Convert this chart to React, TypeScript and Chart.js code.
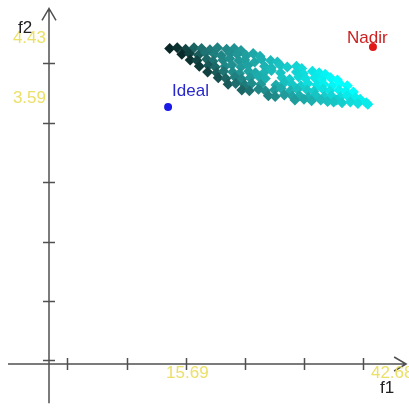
import React, { useEffect, useRef } from "react";
import { Chart, registerables } from "chart.js";

Chart.register(...registerables);

// Pareto front cloud: [f1, f2]
const CLOUD: [number, number][] = [
  [15.9, 4.41], [16.9, 4.42], [18.0, 4.40], [19.1, 4.42], [20.1, 4.41], [21.2, 4.39], [22.2, 4.42], [23.4, 4.40], [24.4, 4.41], [25.3, 4.38],
  [17.5, 4.33], [18.5, 4.34], [19.7, 4.32], [20.6, 4.35], [21.8, 4.33], [22.7, 4.31], [23.9, 4.34], [24.8, 4.33], [26.0, 4.31], [26.9, 4.34], [27.8, 4.30],
  [18.6, 4.25], [19.5, 4.24], [20.8, 4.26], [21.6, 4.23], [22.9, 4.25], [23.8, 4.27], [25.0, 4.24], [25.8, 4.25], [27.1, 4.22], [28.0, 4.26], [29.2, 4.24], [30.1, 4.22],
  [19.8, 4.16], [21.0, 4.17], [21.9, 4.15], [23.2, 4.16], [24.1, 4.18], [25.3, 4.15], [26.2, 4.17], [28.4, 4.16], [29.3, 4.14], [30.5, 4.17], [31.4, 4.15], [32.6, 4.16], [33.3, 4.13],
  [20.9, 4.08], [22.1, 4.07], [23.0, 4.09], [24.2, 4.08], [25.1, 4.06], [26.3, 4.09], [27.2, 4.07], [28.4, 4.08], [29.3, 4.10], [30.5, 4.07], [32.6, 4.08], [33.5, 4.06], [34.7, 4.09], [35.6, 4.07], [36.4, 4.05],
  [22.3, 4.00], [23.3, 3.99], [24.5, 4.01], [25.4, 3.98], [26.5, 4.00], [27.6, 4.02], [28.5, 3.99], [30.7, 4.00], [31.7, 3.98], [32.9, 4.01], [33.8, 3.99], [35.0, 4.00], [35.9, 3.97], [37.1, 4.00], [38.0, 3.97],
  [23.6, 3.91], [24.6, 3.92], [25.8, 3.90], [26.7, 3.92], [27.9, 3.91], [29.9, 3.90], [31.0, 3.93], [32.0, 3.91], [33.2, 3.89], [34.1, 3.92], [35.3, 3.90], [36.2, 3.91], [37.3, 3.89], [38.3, 3.92], [39.3, 3.89],
  [25.4, 3.83], [26.4, 3.82], [27.6, 3.84], [28.5, 3.82], [29.7, 3.83], [30.6, 3.85], [31.8, 3.82], [32.7, 3.84], [34.0, 3.83], [34.9, 3.81], [36.1, 3.84], [37.0, 3.82], [38.2, 3.83], [39.1, 3.81], [40.1, 3.80],
  [28.9, 3.75], [29.8, 3.74], [31.0, 3.76], [32.1, 3.74], [33.0, 3.75], [34.2, 3.73], [35.1, 3.76], [36.3, 3.74], [37.2, 3.75], [38.4, 3.73], [39.3, 3.75], [40.4, 3.72], [41.0, 3.70],
  [32.4, 3.69], [33.6, 3.70], [34.6, 3.68], [35.8, 3.69], [36.7, 3.67], [37.9, 3.69],
  [37.5, 3.66], [38.6, 3.65], [39.7, 3.66], [40.7, 3.64], [41.8, 3.65], [42.0, 3.63],
];

// lower-left edge of the cloud (used for shading only)
const LOWER_EDGE: [number, number][] = [
  [15.9, 4.41], [24.1, 3.86], [27.8, 3.76], [33.1, 3.69], [42.0, 3.63],
];

const IDEAL: [number, number] = [15.69, 3.59];
const NADIR: [number, number] = [42.68, 4.43];

const X_TICKS = [2.37, 10.28, 18.05, 25.82, 33.6, 41.37];
const Y_TICKS = [4.206, 3.368, 2.543, 1.705, 0.88, 0.056];
const X_TICK_LABELS = ["15.69", "42.68"];
const Y_TICK_LABELS = ["4.43", "3.59"];
const X_RANGE = [-6.456, 47.43];
const Y_RANGE = [-0.615, 5.087];
const X_AXIS_EXTENT = [-5.4, 47.05];
const Y_AXIS_EXTENT = [-0.55, 4.97];

function lowerEdge(f1: number): number {
  for (let i = 0; i < LOWER_EDGE.length - 1; i++) {
    const [a, av] = LOWER_EDGE[i];
    const [b, bv] = LOWER_EDGE[i + 1];
    if (f1 <= b || i === LOWER_EDGE.length - 2) {
      const t = (f1 - a) / (b - a);
      return av + (bv - av) * t;
    }
  }
  return LOWER_EDGE[0][1];
}

function shade(p: [number, number]): string {
  const [f1, f2] = p;
  const base = Math.min(1, Math.max(0, (f1 - 15.5) / 27));
  const e = Math.min(1, Math.max(0, (f2 - lowerEdge(f1)) / 0.25));
  const b = Math.min(1, Math.max(0, base + 0.25 * e - 0.08));
  const r = Math.round(8 * (1 - b) + 28 * Math.sin(Math.PI * b));
  const g = Math.round(38 + 217 * b);
  return `rgb(${r},${g},${g})`;
}

const axesPlugin = {
  id: "customAxes",
  afterDatasetsDraw(chart: any) {
    const ctx = chart.ctx;
    const xs = chart.scales.x;
    const ys = chart.scales.y;
    const ox = xs.getPixelForValue(0);
    const oy = ys.getPixelForValue(0);
    const xl = xs.getPixelForValue(X_AXIS_EXTENT[0]);
    const xr = xs.getPixelForValue(X_AXIS_EXTENT[1]);
    const yb = ys.getPixelForValue(Y_AXIS_EXTENT[0]);
    const yt = ys.getPixelForValue(Y_AXIS_EXTENT[1]);
    ctx.save();
    ctx.strokeStyle = "#505050";
    ctx.lineWidth = 1.5;
    ctx.beginPath();
    ctx.moveTo(xl, oy);
    ctx.lineTo(xr, oy);
    ctx.moveTo(ox, yb);
    ctx.lineTo(ox, yt);
    // arrows
    ctx.moveTo(xr - 12, oy - 7);
    ctx.lineTo(xr, oy);
    ctx.lineTo(xr - 12, oy + 7);
    ctx.moveTo(ox - 7, yt + 12);
    ctx.lineTo(ox, yt);
    ctx.lineTo(ox + 7, yt + 12);
    // ticks
    for (const v of X_TICKS) {
      const px = Math.round(xs.getPixelForValue(v)) + 0.5;
      ctx.moveTo(px, oy - 6);
      ctx.lineTo(px, oy + 6);
    }
    for (const v of Y_TICKS) {
      const py = Math.round(ys.getPixelForValue(v)) + 0.5;
      ctx.moveTo(ox - 6, py);
      ctx.lineTo(ox + 6, py);
    }
    ctx.stroke();

    ctx.font = "17px 'Liberation Sans', Arial, sans-serif";
    ctx.textBaseline = "alphabetic";
    // tick labels
    ctx.fillStyle = "#ebe068";
    ctx.textAlign = "left";
    const xVals = [IDEAL[0], NADIR[0]];
    xVals.forEach((v, i) => {
      ctx.fillText(X_TICK_LABELS[i], xs.getPixelForValue(v) - 2, oy + 14);
    });
    ctx.textAlign = "right";
    const yVals = [NADIR[1], IDEAL[1]];
    yVals.forEach((v, i) => {
      ctx.fillText(Y_TICK_LABELS[i], ox - 3, ys.getPixelForValue(v) - 4);
    });
    // axis titles
    ctx.fillStyle = "#202020";
    ctx.textAlign = "left";
    ctx.fillText("f2", ox - 31, yt + 25);
    ctx.fillText("f1", xr - 26, oy + 29);
    // point labels
    ctx.fillStyle = "#2828cc";
    ctx.fillText("Ideal", xs.getPixelForValue(IDEAL[0]) + 4, ys.getPixelForValue(IDEAL[1]) - 11);
    ctx.fillStyle = "#cc2020";
    ctx.fillText("Nadir", xs.getPixelForValue(NADIR[0]) - 26, ys.getPixelForValue(NADIR[1]) - 4);
    ctx.restore();
  },
};

export default function App() {
  const ref = useRef<HTMLCanvasElement | null>(null);
  useEffect(() => {
    if (!ref.current) return;
    const chart = new Chart(ref.current, {
      type: "scatter",
      data: {
        datasets: [
          {
            data: CLOUD.map(([x, y]) => ({ x, y })),
            pointStyle: "rectRot",
            pointRadius: 5.5,
            borderWidth: 0,
            backgroundColor: CLOUD.map(shade),
            borderColor: "rgba(0,0,0,0)",
          },
          {
            data: [{ x: IDEAL[0], y: IDEAL[1] }],
            pointStyle: "circle",
            pointRadius: 4,
            borderWidth: 0,
            backgroundColor: "#1a1ae6",
          },
          {
            data: [{ x: NADIR[0], y: NADIR[1] }],
            pointStyle: "circle",
            pointRadius: 4,
            borderWidth: 0,
            backgroundColor: "#e01818",
          },
        ],
      },
      options: {
        responsive: false,
        animation: false,
        events: [],
        layout: { padding: 0, autoPadding: false },
        plugins: { legend: { display: false }, tooltip: { enabled: false } },
        scales: {
          x: { type: "linear", display: false, min: X_RANGE[0], max: X_RANGE[1] },
          y: { type: "linear", display: false, min: Y_RANGE[0], max: Y_RANGE[1] },
        },
      },
      plugins: [axesPlugin],
    });
    return () => chart.destroy();
  }, []);
  return (
    <div style={{ position: "fixed", left: 0, top: 0, width: 409, height: 408, background: "#fff" }}>
      <canvas ref={ref} width={409} height={408} />
    </div>
  );
}
